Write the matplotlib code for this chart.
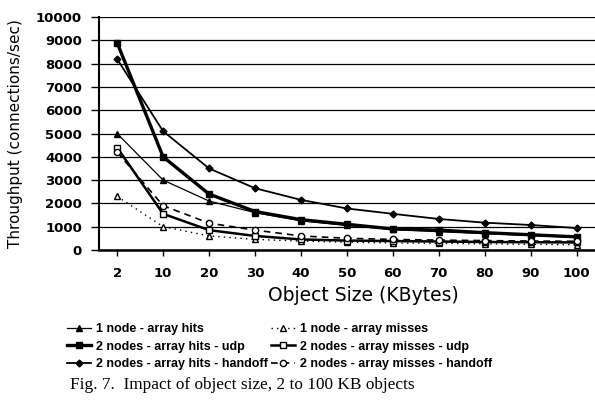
import matplotlib
matplotlib.use("Agg")
from matplotlib import pyplot as plt

sizes = ["2", "10", "20", "30", "40", "50", "60", "70", "80", "90", "100"]
yticks = [0, 1000, 2000, 3000, 4000, 5000, 6000, 7000, 8000, 9000, 10000]

one_hits = [5000, 3000, 2100, 1600, 1250, 1050, 880, 780, 700, 620, 540]
one_misses = [2300, 1000, 600, 450, 380, 330, 300, 280, 260, 240, 220]
udp_hits = [8900, 4000, 2400, 1650, 1300, 1100, 900, 850, 740, 650, 560]
udp_misses = [4400, 1550, 850, 600, 450, 400, 380, 360, 340, 330, 320]
handoff_hits = [8200, 5100, 3500, 2650, 2150, 1780, 1550, 1330, 1170, 1070, 940]
handoff_misses = [4200, 1900, 1150, 850, 600, 500, 450, 420, 400, 380, 370]

labels = ["1 node - array hits", "1 node - array misses",
          "2 nodes - array hits - udp", "2 nodes - array misses - udp",
          "2 nodes - array hits - handoff", "2 nodes - array misses - handoff"]

fig = plt.figure(figsize=(5.95, 4.09), dpi=100)
ax = fig.add_axes([0.166, 0.389, 0.834, 0.569])

x = list(range(len(sizes)))
k = "black"

l1, = ax.plot(x, one_hits, color=k, lw=0.9, marker="^", ms=4, mfc=k)
l2, = ax.plot(x, one_misses, color=k, lw=1.0, ls=(0, (1, 3)), marker="^", ms=4, mfc="white")
l3, = ax.plot(x, udp_hits, color=k, lw=2.4, marker="s", ms=5, mfc=k)
l4, = ax.plot(x, udp_misses, color=k, lw=1.8, marker="s", ms=4.5, mfc="white")
l5, = ax.plot(x, handoff_hits, color=k, lw=1.3, marker="D", ms=3.5, mfc=k)
l6, = ax.plot(x, handoff_misses, color=k, lw=1.2, ls=(0, (4, 3)), marker="o", ms=4.5, mfc="white")

ax.set_xlim(-0.4, 10.4)
ax.set_ylim(0, 10000)
tick_font = {"family": "DejaVu Sans", "weight": "bold", "size": 9.5}
ax.set_yticks(yticks, labels=[str(v) for v in yticks], fontdict=tick_font)
ax.set_xticks(x, labels=sizes, fontdict=tick_font)
ax.yaxis.grid(True, color=k, lw=0.9)
ax.set_axisbelow(True)

for s in ["top", "right"]:
    ax.spines[s].set_visible(False)
ax.spines["left"].set_linewidth(1.5)
ax.spines["bottom"].set_linewidth(1.8)
ax.tick_params(axis="both", direction="out", width=1, colors=k)
ax.tick_params(axis="y", length=6, pad=6)
ax.tick_params(axis="x", length=4, pad=8)

ax.set_xlabel("Object Size (KBytes)", fontsize=13.5, family="DejaVu Sans", va="center")
ax.xaxis.set_label_coords(0.534, -0.197)
ax.set_ylabel("Throughput (connections/sec)", fontsize=11, family="DejaVu Sans", va="center")
ax.yaxis.set_label_coords(-0.167, 0.5)

fig.legend([l1, l3, l5, l2, l4, l6],
           [labels[0], labels[2], labels[4], labels[1], labels[3], labels[5]],
           ncol=2, loc="upper left", bbox_to_anchor=(0.102, 0.225), frameon=False,
           prop={"family": "Liberation Sans", "weight": "bold", "size": 9},
           handlelength=1.9, columnspacing=0.3, labelspacing=0.45, handletextpad=0.4,
           borderpad=0)

fig.text(0.118, 0.059, "Fig. 7.  Impact of object size, 2 to 100 KB objects",
         family="Liberation Serif", fontsize=12.4, va="center")

fig.savefig("out.png", dpi=100)
